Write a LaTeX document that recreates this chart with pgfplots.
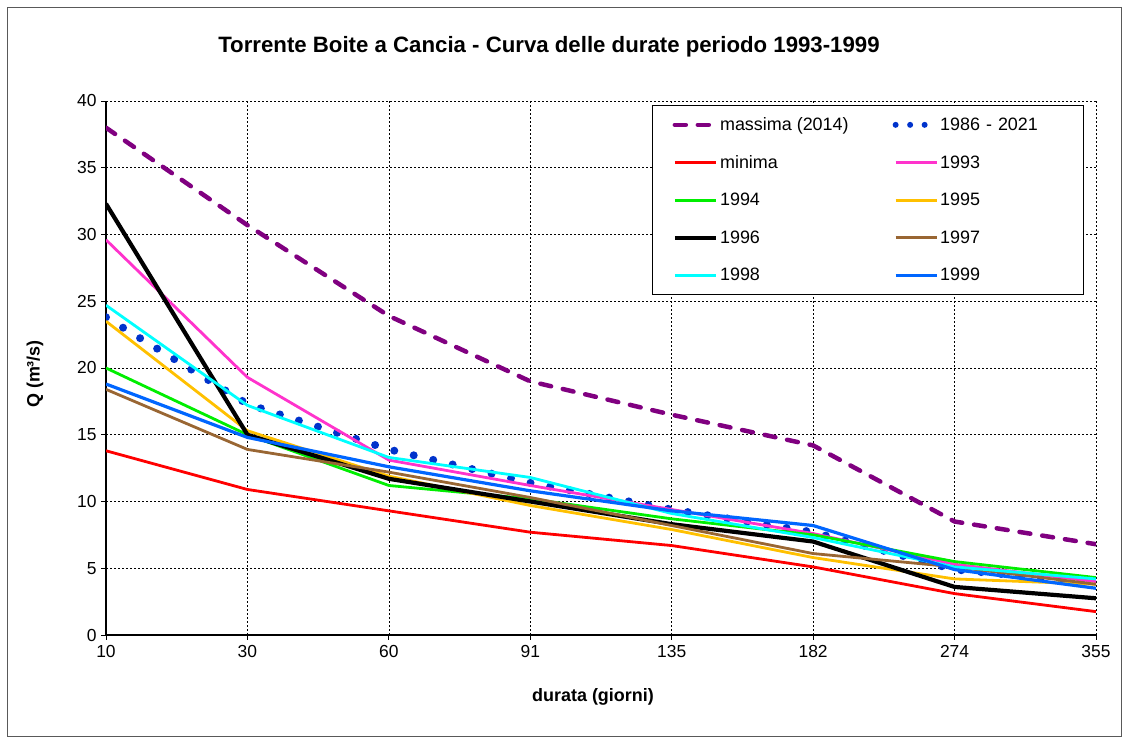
\documentclass[border=0pt]{standalone}
\usepackage{pgfplots}
\pgfplotsset{compat=1.18}
\usepackage{fontspec}
\setmainfont{Liberation Sans}
\definecolor{cMax}{HTML}{800080}
\definecolor{cDot}{HTML}{0033CC}
\definecolor{cMin}{HTML}{FF0000}
\definecolor{c93}{HTML}{FF33CC}
\definecolor{c94}{HTML}{00EE00}
\definecolor{c95}{HTML}{FFC000}
\definecolor{c96}{HTML}{000000}
\definecolor{c97}{HTML}{996633}
\definecolor{c98}{HTML}{00FFFF}
\definecolor{c99}{HTML}{0066FF}
\begin{document}
\begin{tikzpicture}
\useasboundingbox (0,0) rectangle (1127bp,742bp);
\draw[gray!70!black, line width=0.8bp] (7bp,6bp) rectangle (1121bp,735bp);
\node[font=\fontsize{22.3}{26}\selectfont\bfseries] at (549bp,695bp) {Torrente Boite a Cancia - Curva delle durate periodo 1993-1999};
\node[font=\fontsize{18}{21}\selectfont\bfseries, rotate=90] at (35bp,368bp) {Q (m³/s)};
\node[font=\fontsize{18}{21}\selectfont\bfseries] at (593bp,45bp) {durata (giorni)};
\begin{axis}[
  at={(106bp,107bp)}, anchor=south west,
  scale only axis, width=990bp, height=534bp,
  xmin=0, xmax=7, ymin=0, ymax=40,
  xtick={0,...,7}, xticklabels={10,30,60,91,135,182,274,355},
  ytick={0,5,...,40},
  axis x line=bottom, axis y line=left,
  axis line style={-, line width=1.6bp},
  tick align=outside, major tick length=5bp,
  tick style={black, line width=0.8bp},
  grid=major,
  major grid style={black, line width=0.7bp, dash pattern=on 2bp off 2bp},
  ticklabel style={font=\fontsize{17.5}{20}\selectfont},
  /pgf/number format/assume math mode=true,
  yticklabel style={xshift=-1bp},
  xticklabel style={yshift=-2bp},
  legend columns=2,
  legend cell align=left,
  legend image code/.code={\draw[#1] (0bp,0bp) -- (41bp,0bp);},
  legend style={at={(0.5515,0.9925)}, anchor=north west, draw=black, line width=1.2bp,
    font=\fontsize{18}{21}\selectfont, inner xsep=20bp, inner ysep=10bp,
    row sep=19.4bp,
    /tikz/column 2/.style={column sep=42bp},
    /tikz/column 4/.append style={nodes={text width=121bp}}},
]
\addplot[cMax, line width=4.5bp, line cap=round, dash pattern=on 11bp off 12bp] coordinates {(0,38.0)(1,30.7)(2,23.9)(3,19.0)(4,16.5)(5,14.2)(6,8.5)(7,6.8)};
\addlegendentry{massima (2014)}
\addplot[cDot, line width=8bp, line cap=round, dash pattern=on 0bp off 20bp,
  legend image code/.code={\draw[cDot, line width=6bp, line cap=round, dash pattern=on 0bp off 14.5bp] (0bp,0bp) -- (35bp,0bp);}] coordinates {(0,23.8)(1,17.3)(2,13.9)(3,11.4)(4,9.4)(5,7.7)(6,4.9)(7,3.9)};
\addlegendentry{1986 - 2021}
\addplot[cMin, line width=2.8bp] coordinates {(0,13.8)(1,10.9)(2,9.3)(3,7.7)(4,6.7)(5,5.1)(6,3.1)(7,1.75)};
\addlegendentry{minima}
\addplot[c93, line width=2.8bp] coordinates {(0,29.6)(1,19.3)(2,13.1)(3,11.2)(4,9.4)(5,7.6)(6,5.3)(7,4.0)};
\addlegendentry{1993}
\addplot[c94, line width=2.8bp] coordinates {(0,20.0)(1,15.0)(2,11.2)(3,10.2)(4,8.7)(5,7.5)(6,5.5)(7,4.3)};
\addlegendentry{1994}
\addplot[c95, line width=2.8bp] coordinates {(0,23.5)(1,15.3)(2,11.9)(3,9.7)(4,7.9)(5,5.8)(6,4.2)(7,3.8)};
\addlegendentry{1995}
\addplot[c96, line width=4.2bp] coordinates {(0,32.3)(1,15.0)(2,11.7)(3,10.0)(4,8.3)(5,7.0)(6,3.6)(7,2.75)};
\addlegendentry{1996}
\addplot[c97, line width=2.8bp] coordinates {(0,18.4)(1,13.9)(2,12.2)(3,10.3)(4,8.2)(5,6.1)(6,5.1)(7,3.8)};
\addlegendentry{1997}
\addplot[c98, line width=2.8bp] coordinates {(0,24.7)(1,17.2)(2,13.3)(3,11.8)(4,9.1)(5,7.3)(6,5.1)(7,4.2)};
\addlegendentry{1998}
\addplot[c99, line width=3.2bp] coordinates {(0,18.8)(1,14.8)(2,12.6)(3,10.8)(4,9.3)(5,8.2)(6,4.9)(7,3.5)};
\addlegendentry{1999}
\end{axis}
\end{tikzpicture}
\end{document}
